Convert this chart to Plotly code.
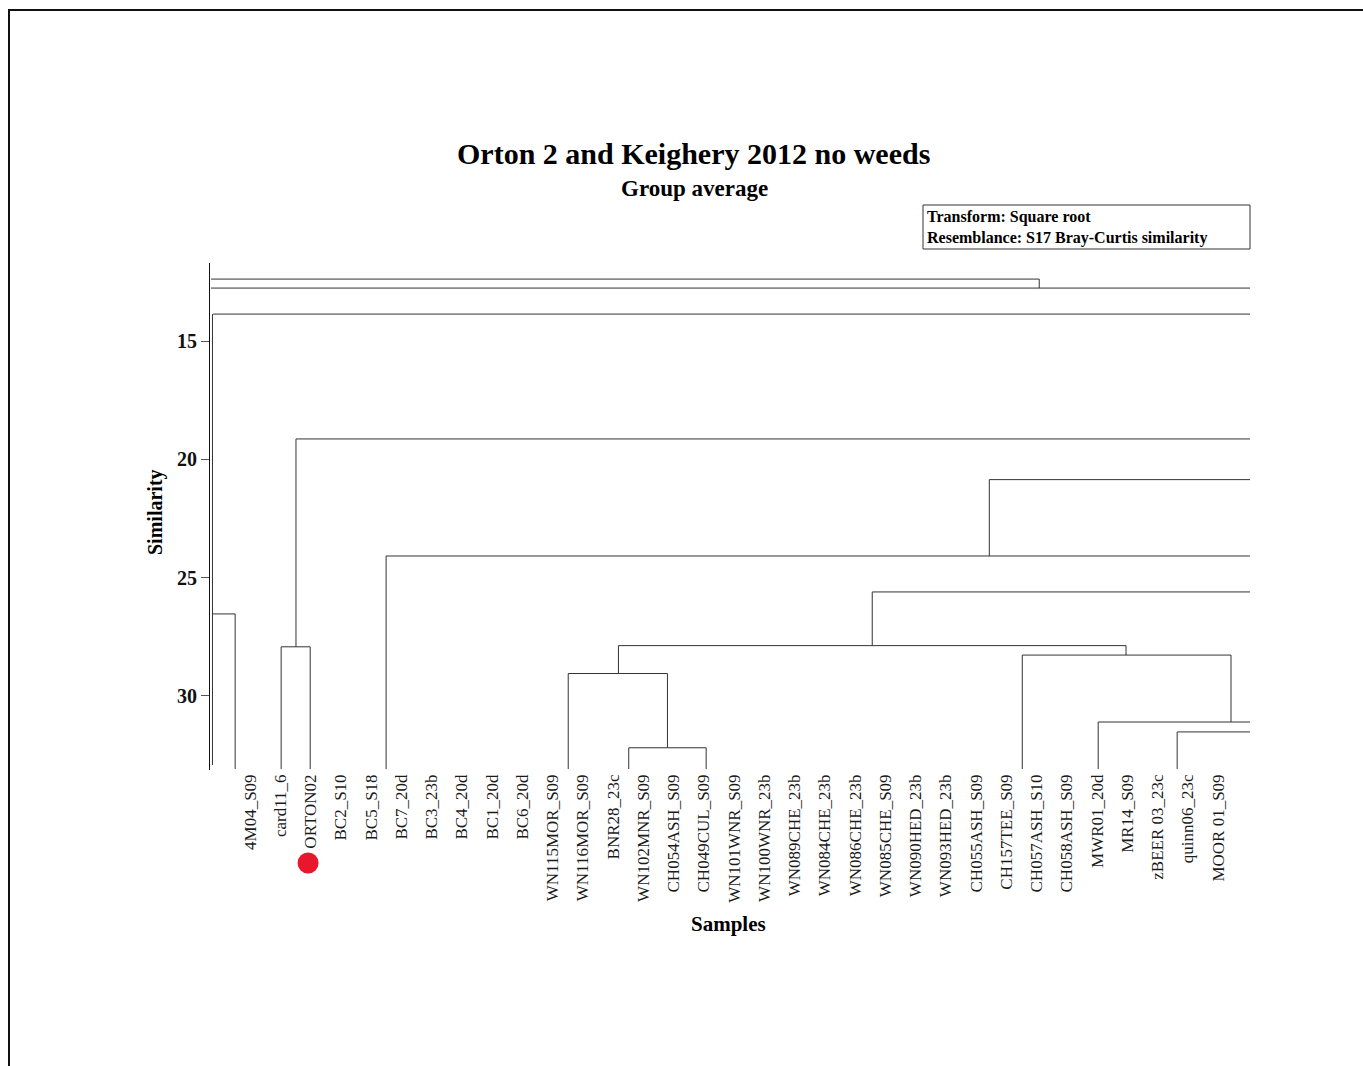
import plotly.graph_objects as go

# ---- sample labels along the bottom axis ----
samples = [
    "4M04_S09", "card11_6", "ORTON02", "BC2_S10", "BC5_S18", "BC7_20d",
    "BC3_23b", "BC4_20d", "BC1_20d", "BC6_20d", "WN115MOR_S09", "WN116MOR_S09",
    "BNR28_23c", "WN102MNR_S09", "CH054ASH_S09", "CH049CUL_S09", "WN101WNR_S09",
    "WN100WNR_23b", "WN089CHE_23b", "WN084CHE_23b", "WN086CHE_23b", "WN085CHE_S09",
    "WN090HED_23b", "WN093HED_23b", "CH055ASH_S09", "CH157TEE_S09", "CH057ASH_S10",
    "CH058ASH_S09", "MWR01_20d", "MR14_S09", "zBEER 03_23c", "quinn06_23c",
    "MOOR 01_S09",
]
highlighted = "ORTON02"

similarity_ticks = [15, 20, 25, 30]

# ---- dendrogram links (x in sample-index units, y in similarity) ----
LEAF = 33.1   # leaf tips
EDGE = 33.06  # branches running on past the right edge

# horizontal links: (similarity, x_from, x_to)
h_links = [
    (12.38, -1.29, 26.09),
    (12.76, -1.29, EDGE),
    (13.86, -1.22, EDGE),
    (19.14, 1.52, EDGE),
    (20.86, 24.44, EDGE),
    (24.09, 4.50, EDGE),
    (25.61, 20.57, EDGE),
    (26.54, -1.24, -0.49),
    (27.93, 1.03, 1.99),
    (27.88, 12.18, 28.96),
    (28.28, 25.53, 32.43),
    (29.06, 10.52, 13.80),
    (31.11, 28.04, EDGE),
    (31.53, 30.65, EDGE),
    (32.20, 12.52, 15.08),
]

# vertical links: (x, similarity_from, similarity_to)
v_links = [
    (-1.24, 13.86, 32.93),
    (-0.49, 26.54, LEAF),
    (1.52, 19.14, 27.93),
    (1.03, 27.93, LEAF),
    (1.99, 27.93, LEAF),
    (4.50, 24.09, LEAF),
    (24.44, 20.86, 24.09),
    (26.09, 12.38, 12.76),
    (20.57, 25.61, 27.88),
    (12.18, 27.88, 29.06),
    (10.52, 29.06, LEAF),
    (13.80, 29.06, 32.20),
    (12.52, 32.20, LEAF),
    (15.08, 32.20, LEAF),
    (28.96, 27.88, 28.28),
    (25.53, 28.28, LEAF),
    (32.43, 28.28, 31.11),
    (28.04, 31.11, LEAF),
    (30.65, 31.53, LEAF),
]

# ---- figure geometry (pixels) ----
W, H = 1363, 1066
PL, PR, PT, PB = 210, 1250, 263, 770
X_RANGE = [-1.322, 33.058]
Y_RANGE = [33.14, 11.70]   # similarity grows downward


def px(x):
    return (x - PL) / (PR - PL)


def py(y):
    return (PB - y) / (PB - PT)


def x_paper(v):
    """Sample-index coordinate -> paper fraction."""
    return (v - X_RANGE[0]) / (X_RANGE[1] - X_RANGE[0])


xs, ys = [], []
for y, x0, x1 in h_links:
    xs += [x0, x1, None]
    ys += [y, y, None]
for x, y0, y1 in v_links:
    xs += [x, x, None]
    ys += [y0, y1, None]

serif = "Liberation Serif"

fig = go.Figure()
fig.add_trace(go.Scatter(
    x=xs, y=ys, mode="lines",
    line=dict(color="#333333", width=1),
    hoverinfo="skip", showlegend=False,
))

fig.update_layout(
    width=W, height=H,
    margin=dict(l=PL, r=W - PR, t=PT, b=H - PB, pad=0),
    paper_bgcolor="white", plot_bgcolor="white",
    showlegend=False,
    xaxis=dict(
        range=X_RANGE, tickmode="array",
        tickvals=list(range(len(samples))), ticktext=samples,
        tickangle=-90, ticks="", showline=False, showgrid=False,
        zeroline=False, automargin=False,
        tickfont=dict(family=serif, size=17, color="#1a1a1a"),
    ),
    yaxis=dict(
        range=Y_RANGE, tickmode="array", tickvals=similarity_ticks,
        ticks="outside", ticklen=8, tickwidth=1, tickcolor="#555555",
        showline=True, linecolor="#111111", linewidth=1,
        showgrid=False, zeroline=False, automargin=False,
        tickfont=dict(family=serif, size=20, color="#111111", weight="bold"),
    ),
)

# red marker under the highlighted sample's label
dot_x = x_paper(samples.index(highlighted) - 0.08)
dot_y = py(863)
dot_rx, dot_ry = 10.5 / (PR - PL), 10.5 / (PB - PT)
fig.add_shape(type="circle", xref="paper", yref="paper",
              x0=dot_x - dot_rx, x1=dot_x + dot_rx,
              y0=dot_y - dot_ry, y1=dot_y + dot_ry,
              fillcolor="#e8172b", line=dict(width=0))

# outer frame (top and left edges)
fig.add_shape(type="line", xref="paper", yref="paper",
              x0=px(8), x1=px(W + 5), y0=py(10), y1=py(10),
              line=dict(color="#111111", width=2))
fig.add_shape(type="line", xref="paper", yref="paper",
              x0=px(9), x1=px(9), y0=py(10), y1=py(H + 5),
              line=dict(color="#111111", width=2))

# info box
fig.add_shape(type="rect", xref="paper", yref="paper",
              x0=px(923), x1=px(1250), y0=py(249), y1=py(205),
              line=dict(color="#333333", width=1), fillcolor="white")
fig.add_annotation(
    xref="paper", yref="paper", x=px(925), y=py(227),
    xanchor="left", yanchor="middle", align="left", showarrow=False,
    text="Transform: Square root<br>Resemblance: S17 Bray-Curtis similarity",
    font=dict(family=serif, size=16, color="black", weight="bold"),
)

# titles
fig.add_annotation(
    xref="paper", yref="paper", x=px(693), y=py(153),
    xanchor="center", yanchor="middle", showarrow=False,
    text="Orton 2 and Keighery 2012 no weeds",
    font=dict(family=serif, size=30, color="black", weight="bold"),
)
fig.add_annotation(
    xref="paper", yref="paper", x=px(694), y=py(189),
    xanchor="center", yanchor="middle", showarrow=False,
    text="Group average",
    font=dict(family=serif, size=23, color="black", weight="bold"),
)
fig.add_annotation(
    xref="paper", yref="paper", x=px(155), y=py(512),
    xanchor="center", yanchor="middle", showarrow=False, textangle=-90,
    text="Similarity",
    font=dict(family=serif, size=20, color="black", weight="bold"),
)
fig.add_annotation(
    xref="paper", yref="paper", x=px(728), y=py(924),
    xanchor="center", yanchor="middle", showarrow=False,
    text="Samples",
    font=dict(family=serif, size=21, color="black", weight="bold"),
)

fig.write_html("out.html")
